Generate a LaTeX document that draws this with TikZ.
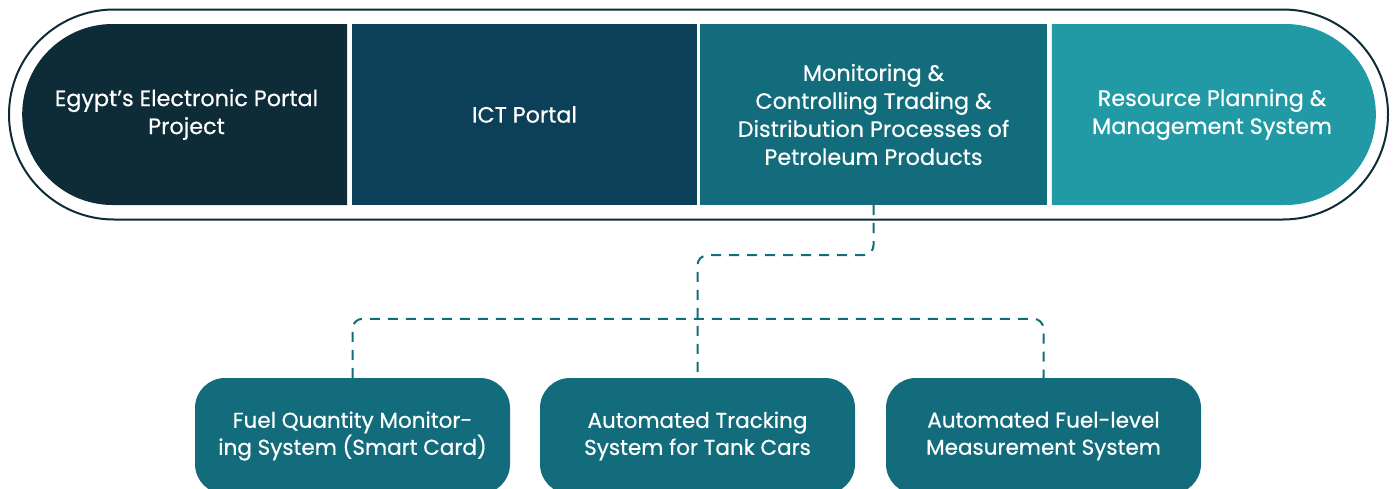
\documentclass[tikz,border=0pt]{standalone}
\usepackage{fontspec}
\setmainfont{Poppins}[FakeBold=0.5]
\usetikzlibrary{shapes.misc}
\definecolor{cA}{HTML}{0E2C37}
\definecolor{cB}{HTML}{0C3F58}
\definecolor{cC}{HTML}{136C7B}
\definecolor{cD}{HTML}{219AA5}
\tikzset{
  seg/.style={inner sep=0pt, minimum height=181pt, text=white, align=center,
    font=\fontsize{22.3}{28}\selectfont},
  lowbox/.style={rounded corners=30pt, fill=cC, inner sep=0pt, minimum width=315pt,
    minimum height=116pt, text=white, align=center, font=\fontsize{21.5}{27}\selectfont},
  conn/.style={draw=cC, line width=2pt, dash pattern=on 10pt off 8pt, rounded corners=10pt}
}
\begin{document}
\begin{tikzpicture}[x=1pt,y=-1pt]
\useasboundingbox (0,0) rectangle (1397,488);
\node[rounded rectangle, draw=cA, line width=2pt, inner sep=0pt, minimum width=1379pt, minimum height=210pt] (frame) at (698.5,114.5) {};
\node[seg, rounded rectangle, rounded rectangle right arc=none, fill=cA, minimum width=325pt] (s1) at (186.5,114.5) {Egypt’s Electronic Portal\\Project};
\node[seg, rectangle, fill=cB, minimum width=345pt] (s2) at (524.5,114.5) {ICT Portal};
\node[seg, rectangle, fill=cC, minimum width=347pt] (s3) at (873.5,114.5) {Monitoring \&\\Controlling Trading \&\\Distribution Processes of\\Petroleum Products};
\node[seg, rounded rectangle, rounded rectangle left arc=none, fill=cD, minimum width=324pt] (s4) at (1212,114.5) {Resource Planning \&\\Management System};
\node[lowbox] (b1) at (352.5,436) {Fuel Quantity Monitor-\\ing System (Smart Card)};
\node[lowbox] (b2) at (697.5,436) {Automated Tracking\\System for Tank Cars};
\node[lowbox] (b3) at (1043.5,436) {Automated Fuel-level\\Measurement System};
\draw[conn] (s3.south) -- ++(0,50) -| (b2.north);
\draw[conn] (b1.north) -- ++(0,-59) -| (b3.north);
\end{tikzpicture}
\end{document}
